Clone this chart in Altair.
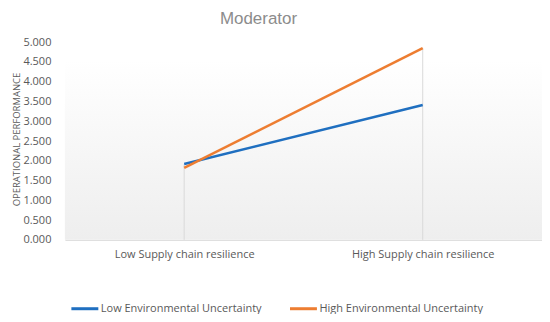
import altair as alt
import pandas as pd

title_text = "Moderator"
categories = ["Low Supply chain resilience", "High Supply chain resilience"]
series_names = ["Low Environmental Uncertainty", "High Environmental Uncertainty"]
low_eu = [1.92, 3.41]
high_eu = [1.82, 4.85]
colors = ["#1f6fc0", "#ed7d31"]
y_ticks = [0.0, 0.5, 1.0, 1.5, 2.0, 2.5, 3.0, 3.5, 4.0, 4.5, 5.0]

rows = []
for name, vals in zip(series_names, [low_eu, high_eu]):
    for c, v in zip(categories, vals):
        rows.append({"cat": c, "series": name, "value": v})
df = pd.DataFrame(rows)

drop = pd.DataFrame({"cat": categories,
                     "top": [max(a, b) for a, b in zip(low_eu, high_eu)],
                     "base": [0.0, 0.0]})

W, H = 478, 198
FONT = "Open Sans"

xscale = alt.Scale(domain=categories, type="point", padding=0.5)
yscale = alt.Scale(domain=[0, 5], nice=False)

xaxis = alt.Axis(title=None, labelAngle=0, ticks=False, grid=False,
                 domainColor="#d9d9d9", labelColor="#595959",
                 labelFontSize=11, labelFont=FONT, labelPadding=9,
                 labelLimit=300)
yaxis = alt.Axis(title="OPERATIONAL PERFORMANCE", values=y_ticks,
                 format=".3f", ticks=False, grid=False, domain=False,
                 labelColor="#595959", labelFontSize=11, labelFont=FONT,
                 labelPadding=14, titleFont=FONT, titleFontSize=9.5,
                 titleFontWeight="normal", titleColor="#595959",
                 titleX=-48, titleY=97, titleAngle=-90,
                 titleAlign="center", titleBaseline="middle")

bg = alt.Chart(alt.Data(values=[{"a": 1}])).mark_rect(
    fill=alt.Gradient(
        gradient="linear",
        stops=[alt.GradientStop(color="#ffffff", offset=0),
               alt.GradientStop(color="#eeeeee", offset=1)],
        x1=0, x2=0, y1=0, y2=1,
    )
).encode(x=alt.value(0), x2=alt.value(W), y=alt.value(18), y2=alt.value(H))

title = alt.Chart(alt.Data(values=[{"t": title_text}])).mark_text(
    font="Liberation Sans", fontSize=17, color="#8c8c8c", align="center",
    baseline="alphabetic"
).encode(text="t:N", x=alt.value(194), y=alt.value(-18.5))

rules = alt.Chart(drop).mark_rule(color="#d9d9d9", strokeWidth=1).encode(
    x=alt.X("cat:N", scale=xscale, sort=categories, axis=xaxis),
    y=alt.Y("top:Q", scale=yscale, axis=yaxis),
    y2="base:Q",
)

lines = alt.Chart(df).mark_line(strokeWidth=2.6).encode(
    x=alt.X("cat:N", scale=xscale, sort=categories, axis=xaxis),
    y=alt.Y("value:Q", scale=yscale, axis=yaxis),
    color=alt.Color("series:N", sort=series_names,
                    scale=alt.Scale(domain=series_names, range=colors),
                    legend=alt.Legend(title=None, orient="none", legendX=5,
                                      legendY=252, direction="horizontal",
                                      columns=2, columnPadding=21,
                                      symbolType="stroke", symbolSize=729,
                                      symbolStrokeWidth=3, labelFont=FONT,
                                      labelFontSize=11, labelColor="#595959",
                                      labelOffset=1, labelLimit=300)),
    detail="series:N",
)

chart = alt.layer(bg, rules, lines, title).properties(
    width=W, height=H,
    autosize=alt.AutoSizeParams(type="none"),
    padding={"left": 57, "top": 34, "right": 0, "bottom": 74},
).configure_view(stroke=None)

chart.save("out.html", embed_options={"renderer": "svg", "actions": False})
